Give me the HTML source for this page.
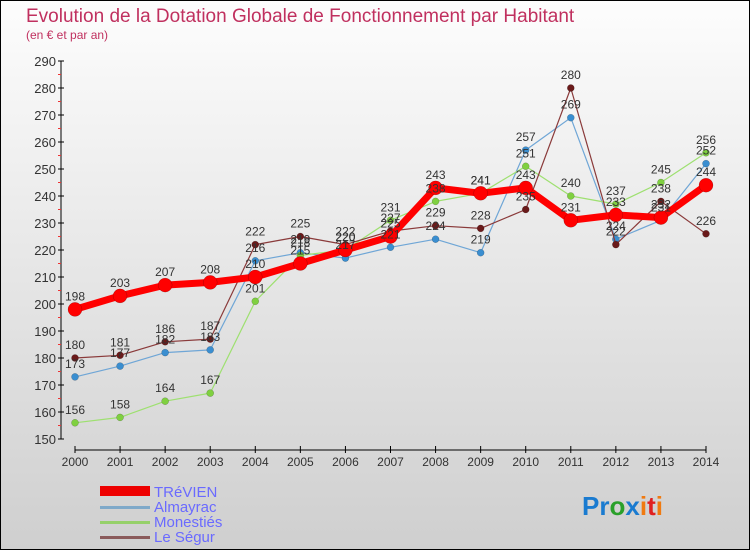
<!DOCTYPE html>
<html><head><meta charset="utf-8"><style>
body{margin:0;width:750px;height:550px;overflow:hidden;font-family:"Liberation Sans",sans-serif}
</style></head><body>
<svg id="c" width="750" height="550" xmlns="http://www.w3.org/2000/svg">
<defs><linearGradient id="bg" x1="0" y1="0" x2="0" y2="1"><stop offset="0" stop-color="#fdfdfd"/><stop offset="1" stop-color="#cfcfcf"/></linearGradient></defs>
<rect x="0.5" y="0.5" width="749" height="549" fill="url(#bg)" stroke="#000"/>
<text x="26" y="22" font-size="19" fill="#c0305f">Evolution de la Dotation Globale de Fonctionnement par Habitant</text>
<text x="26" y="39" font-size="12" fill="#c0305f">(en € et par an)</text>
<g id="axes"></g><g id="series"></g><g id="labels"></g>
<g>
<rect x="100" y="486" width="50" height="10" fill="#e00"/>
<text x="154" y="497" font-size="15" fill="#6a6aff">TRéVIEN</text>
<rect x="100" y="506" width="50" height="3" fill="#7fa9c9"/>
<text x="154" y="512" font-size="15" fill="#6a6aff">Almayrac</text>
<rect x="100" y="521" width="50" height="3" fill="#96d06a"/>
<text x="154" y="527" font-size="15" fill="#6a6aff">Monestiés</text>
<rect x="100" y="536" width="50" height="3" fill="#8a5a5a"/>
<text x="154" y="542" font-size="15" fill="#6a6aff">Le Ségur</text>
</g>
<text x="582" y="515" font-size="26" font-weight="bold"><tspan fill="#1a7bd0">Pr</tspan><tspan fill="#2aa02a">o</tspan><tspan fill="#1a7bd0">x</tspan><tspan fill="#f07a10">i</tspan><tspan fill="#e02020">t</tspan><tspan fill="#f07a10">i</tspan></text>
</svg>
<script>
const years=[2000,2001,2002,2003,2004,2005,2006,2007,2008,2009,2010,2011,2012,2013,2014];
const trevien=[198,203,207,208,210,215,220,225,243,241,243,231,233,232,244];
const almayrac=[173,177,182,183,216,219,217,221,224,219,257,269,224,231,252];
const monesties=[156,158,164,167,201,218,220,231,238,241,251,240,237,245,256];
const lesegur=[180,181,186,187,222,225,222,227,229,228,235,280,222,238,226];
const yTicks=[150,160,170,180,190,200,210,220,230,240,250,260,270,280,290];
const NS="http://www.w3.org/2000/svg";
const X=i=>75+i*(706-75)/(years.length-1);
const Y=v=>439-(v-150)*2.7;
function el(t,a,p){const e=document.createElementNS(NS,t);for(const k in a)e.setAttribute(k,a[k]);p.appendChild(e);return e;}
const ax=document.getElementById('axes');
const yl=el('line',{x1:61,y1:61,x2:61,y2:439,stroke:'#000'},ax);


const xl=el('line',{x1:75,y1:450,x2:706,y2:450,stroke:'#000'},ax);


yTicks.forEach((v,i)=>{
  el('line',{x1:58,y1:Y(v),x2:64,y2:Y(v),stroke:'#000'},ax);
  if(i<yTicks.length-1) el('line',{x1:58,y1:Y(v+5),x2:61,y2:Y(v+5),stroke:'#e33'},ax);
  const t=el('text',{x:56,y:Y(v)+5,'font-size':13,fill:'#333','text-anchor':'end'},ax);
  t.textContent=v;
  
  
});
years.forEach((y,i)=>{
  el('line',{x1:X(i),y1:446,x2:X(i),y2:453,stroke:'#000'},ax);
  const t=el('text',{x:X(i),y:466,'font-size':12,fill:'#333','text-anchor':'middle'},ax);
  t.textContent=y;
  
  
});
const sg=document.getElementById('series'),lg=document.getElementById('labels');
function series(data,name,color,dot,w,r){
  const g=el('g',{},sg);
  
  
  el('polyline',{points:data.map((v,i)=>X(i)+','+Y(v)).join(' '),fill:'none',stroke:color,'stroke-width':w,'stroke-linejoin':'round'},g);
  data.forEach((v,i)=>{
    const c=el('circle',{cx:X(i),cy:Y(v),r:r,fill:dot,stroke:'rgba(0,0,0,0.3)','stroke-width':0.5},g);
    
    
    const t=el('text',{x:X(i),y:Y(v)-9,'font-size':12,fill:'#333','text-anchor':'middle'},lg);
    t.textContent=v;
    
    
  });
}
series(almayrac,'almayrac','#6fa6d6','#3a8ed0',1.2,3.5);
series(monesties,'monesties','#9ee070','#7fd040',1.2,3.5);
series(lesegur,'le-segur','#8a3a3a','#6a1a1a',1.2,3.5);
series(trevien,'trevien','#f00','#f00',7,7);
</script>
</body></html>
